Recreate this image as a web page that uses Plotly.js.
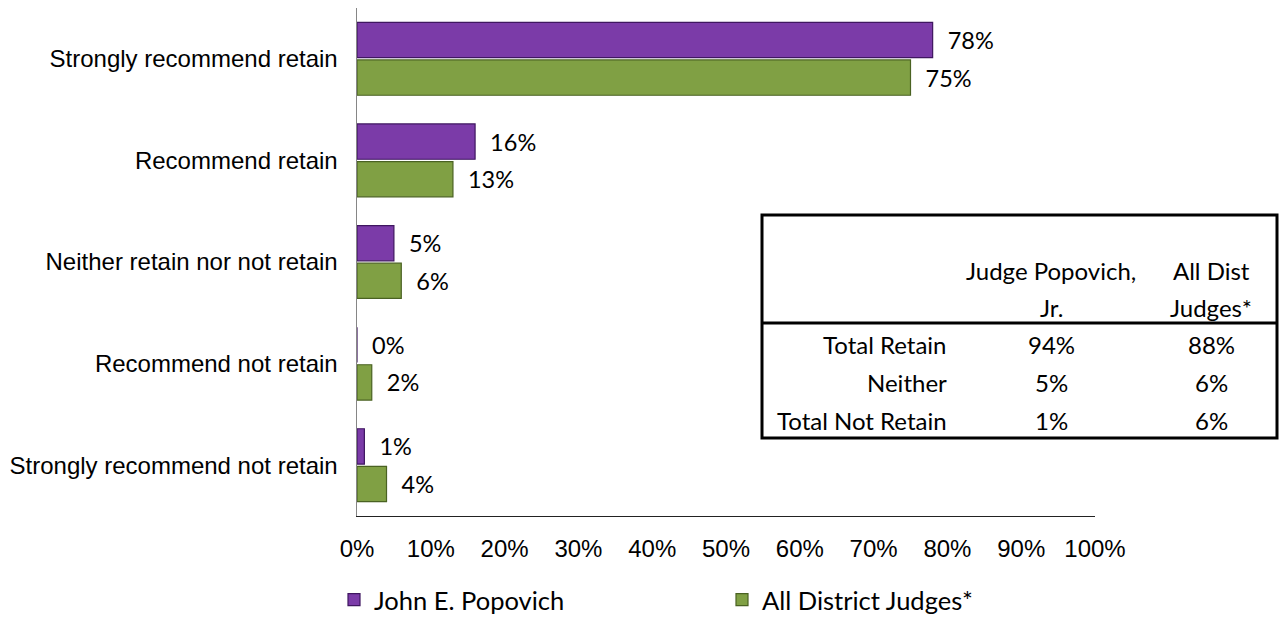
<!DOCTYPE html>
<html><head><meta charset="utf-8">
<script src="https://cdn.plot.ly/plotly-3.0.1.min.js"></script>
<style>html,body{margin:0;padding:0;background:#fff;}#chart{width:1287px;height:641px;}</style>
</head><body><div id="chart"></div>
<script>
const categories = ["Strongly recommend retain","Recommend retain","Neither retain nor not retain","Recommend not retain","Strongly recommend not retain"];
const popovich = [78, 16, 5, 0, 1];
const allJudges = [75, 13, 6, 2, 4];
const seriesNames = ["John E. Popovich", "All District Judges*"];
const xTickVals = [0,10,20,30,40,50,60,70,80,90,100];
const xTickText = xTickVals.map(v => v + "%");
const tableHeaderCol1 = ["Judge Popovich,", "Jr."];
const tableHeaderCol2 = ["All Dist", "Judges*"];
const tableRows = ["Total Retain", "Neither", "Total Not Retain"];
const tablePopovich = ["94%", "5%", "1%"];
const tableAll = ["88%", "6%", "6%"];

const W = 1287, H = 641;
const M = {l: 357, r: 1287 - 1095, t: 8, b: 641 - 516};
const px = x => (x - M.l) / (W - M.l - M.r);
const py = y => 1 - (y - M.t) / (H - M.t - M.b);

const cal = "Lato, 'Open Sans', sans-serif";
const labFont = {family: cal, size: 23.5, color: "#000"};
const traces = [
  {type: "bar", orientation: "h", name: seriesNames[0], y: categories, x: popovich,
   text: popovich.map(v => "  " + v + "%"), textposition: "outside", cliponaxis: false,
   textfont: labFont,
   marker: {color: "#7B3BA8", line: {color: "#3f1660", width: 1.2}}},
  {type: "bar", orientation: "h", name: seriesNames[1], y: categories, x: allJudges,
   text: allJudges.map(v => "  " + v + "%"), textposition: "outside", cliponaxis: false,
   textfont: labFont,
   marker: {color: "#80A044", line: {color: "#4a6222", width: 1.2}}}
];

const tf = {family: cal, size: 24, color: "#000"};
const ann = [];
const shapes = [
  {type: "rect", xref: "paper", yref: "paper", x0: px(762), x1: px(1277), y0: py(215), y1: py(438),
   line: {color: "#000", width: 3}, fillcolor: "#fff", layer: "above"},
  {type: "line", xref: "paper", yref: "paper", x0: px(762), x1: px(1277), y0: py(323), y1: py(323),
   line: {color: "#000", width: 3}, layer: "above"}
];
const mk = (x, y, t, xa) => ann.push({xref: "paper", yref: "paper", x: px(x), y: py(y), text: t,
  showarrow: false, font: tf, xanchor: xa, yanchor: "middle"});
const headY = [270, 307];
tableHeaderCol1.forEach((t, i) => mk(1051, headY[i], t, "center"));
tableHeaderCol2.forEach((t, i) => mk(1211, headY[i], t, "center"));
const rowY = [344, 382, 420];
tableRows.forEach((r, i) => {
  mk(949, rowY[i], r, "right");
  mk(1051, rowY[i], tablePopovich[i], "center");
  mk(1211, rowY[i], tableAll[i], "center");
});

const layout = {
  width: W, height: H, margin: M, paper_bgcolor: "#fff", plot_bgcolor: "#fff",
  barmode: "group", bargap: 0.26, bargroupgap: 0.06, showlegend: true,
  xaxis: {range: [0, 100], tickvals: xTickVals, ticktext: xTickText, showgrid: false, zeroline: false,
    showline: true, linecolor: "#222", linewidth: 1.2, ticks: "", ticklabelstandoff: 11,
    tickfont: {family: "'Liberation Sans', Arial, sans-serif", size: 24, color: "#000"}, fixedrange: true},
  yaxis: {autorange: "reversed", showgrid: false, zeroline: false, showline: true, linecolor: "#868686",
    linewidth: 1.5, ticks: "", ticklabelstandoff: 13,
    tickfont: {family: "'Liberation Sans', Arial, sans-serif", size: 24, color: "#000"}, fixedrange: true},
  legend: {orientation: "h", x: px(334), y: py(600), xanchor: "left", yanchor: "middle",
    font: {family: cal, size: 25.5, color: "#000"}, entrywidth: 343, itemwidth: 30},
  shapes: shapes, annotations: ann
};
Plotly.newPlot("chart", traces, layout, {displayModeBar: false, staticPlot: true});
</script></body></html>
